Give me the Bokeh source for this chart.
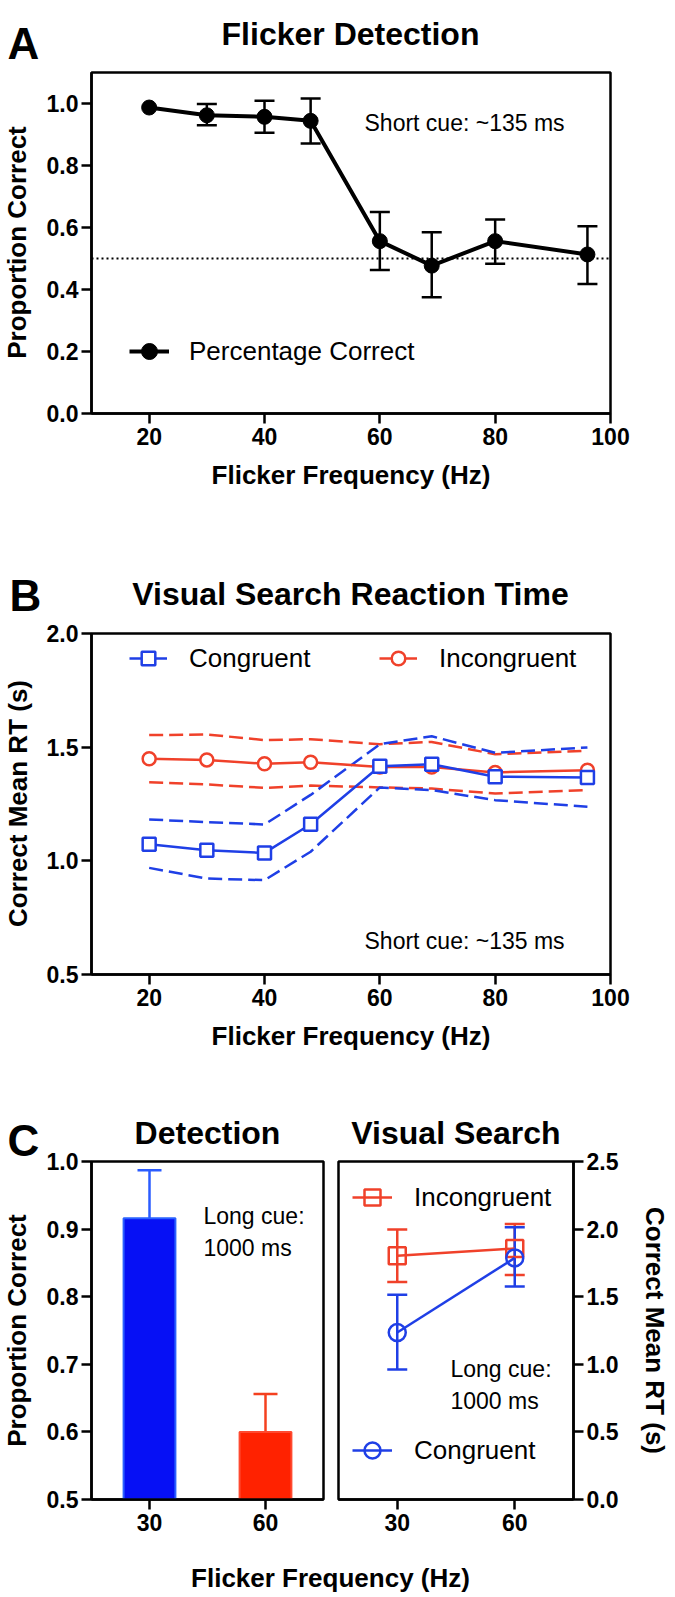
from math import pi
from bokeh.plotting import figure
from bokeh.models import (Range1d, FixedTicker, PrintfTickFormatter, Label, Span, Whisker,
                          TeeHead, ColumnDataSource, Legend, LegendItem, Title)
from bokeh.layouts import column, row
from bokeh.embed import file_html
from bokeh.resources import INLINE

# ---------------- data ----------------
# Panel A: flicker detection (short cue)
freq = [20, 30, 40, 48, 60, 69, 80, 96]
det_mean = [0.987, 0.962, 0.957, 0.944, 0.556, 0.477, 0.556, 0.513]
det_upper = [0.987, 0.998, 1.009, 1.016, 0.650, 0.585, 0.626, 0.604]
det_lower = [0.987, 0.930, 0.906, 0.871, 0.463, 0.375, 0.483, 0.418]
chance_level = 0.5

# Panel B: visual search reaction time (short cue)
cong_rt = [1.073, 1.047, 1.035, 1.161, 1.416, 1.425, 1.370, 1.367]
cong_rt_upper = [1.182, 1.170, 1.160, 1.290, 1.513, 1.548, 1.475, 1.499]
cong_rt_lower = [0.969, 0.922, 0.915, 1.040, 1.323, 1.311, 1.267, 1.238]
incong_rt = [1.449, 1.444, 1.427, 1.434, 1.413, 1.413, 1.389, 1.399]
incong_rt_upper = [1.553, 1.556, 1.531, 1.535, 1.513, 1.523, 1.469, 1.484]
incong_rt_lower = [1.346, 1.336, 1.321, 1.331, 1.323, 1.318, 1.296, 1.311]

# Panel C: long cue
c_freq = [30, 60]
c_det = [0.916, 0.600]
c_det_upper = [0.987, 0.656]
c_det_lower = [0.845, 0.542]
c_incong = [1.802, 1.856]
c_incong_upper = [1.997, 2.038]
c_incong_lower = [1.608, 1.661]
c_cong = [1.235, 1.787]
c_cong_upper = [1.515, 2.014]
c_cong_lower = [0.961, 1.576]

# ticks
ab_xticks = [20, 40, 60, 80, 100]
a_yticks = [0.0, 0.2, 0.4, 0.6, 0.8, 1.0]
b_yticks = [0.5, 1.0, 1.5, 2.0]
c_xticks = [30, 60]
cl_yticks = [0.5, 0.6, 0.7, 0.8, 0.9, 1.0]
cr_yticks = [0.0, 0.5, 1.0, 1.5, 2.0, 2.5]

# ---------------- styles ----------------
FONT = "Liberation Sans"
BLUE = "#1f3fe6"
RED = "#f0412a"
BAR_COLORS = ["#0610f5", "#ff2200"]
BAR_EDGES = ["#2b62ff", "#ff4a30"]
ERR_COLORS = ["#2b5cff", "#f4401f"]
TICK_PX = "23px"
AXLAB = 26
TITLE_PX = 32
LETTER_PX = 44
NOTE_PX = 23
LEG_PX = "26px"
TOTAL_H = 1597
STRIP_W = 43
COL_W = 632


def new_fig(**kw):
    p = figure(output_backend="svg", toolbar_location=None, title=None, **kw)
    try:
        p.frame_align = False
    except Exception:
        pass
    p.background_fill_color = "white"
    p.border_fill_color = "white"
    return p


def style(p, xticks, yticks):
    p.xgrid.visible = False
    p.ygrid.visible = False
    p.outline_line_color = "black"
    p.outline_line_width = 2.5
    p.outline_line_alpha = 1.0
    p.xaxis.ticker = FixedTicker(ticks=xticks)
    p.yaxis.ticker = FixedTicker(ticks=yticks)
    p.yaxis.formatter = PrintfTickFormatter(format="%.1f")
    for ax in p.axis:
        ax.axis_line_width = 2.5
        ax.axis_line_color = "black"
        ax.major_tick_line_width = 2.5
        ax.major_tick_line_color = "black"
        ax.major_tick_out = 10
        ax.major_tick_in = 0
        ax.minor_tick_line_color = None
        ax.major_label_text_font = FONT
        ax.major_label_text_font_style = "bold"
        ax.major_label_text_font_size = TICK_PX
        ax.major_label_text_color = "black"
        ax.axis_label_text_font = FONT
        ax.axis_label_text_font_style = "bold"
        ax.axis_label_text_font_size = f"{AXLAB}px"
        ax.axis_label_text_color = "black"
    p.xaxis.major_label_standoff = 4
    p.yaxis.major_label_standoff = 3


def blank(width, height):
    h = new_fig(width=width, height=height, x_axis_location=None, y_axis_location=None,
                min_border=0, x_range=Range1d(0, 1), y_range=Range1d(0, 1))
    h.xgrid.visible = False
    h.ygrid.visible = False
    h.outline_line_color = None
    return h


def lab(p, x, y, text, size, bold=False, align="left", baseline="alphabetic", angle=0.0):
    p.add_layout(Label(x=x, y=y, x_units="screen", y_units="screen", text=text,
                       text_font=FONT, text_font_size=f"{size}px",
                       text_font_style="bold" if bold else "normal",
                       text_align=align, text_baseline=baseline, angle=angle,
                       text_color="black"))


def whisk(p, xs, up, lo, color, width, head):
    src = ColumnDataSource(dict(x=xs, upper=up, lower=lo))
    w = Whisker(source=src, base="x", upper="upper", lower="lower",
                line_color=color, line_width=width,
                upper_head=TeeHead(size=head, line_color=color, line_width=width),
                lower_head=TeeHead(size=head, line_color=color, line_width=width))
    p.add_layout(w)


def legend(p, renderers, text, loc, gw, gh, standoff):
    leg = Legend(items=[LegendItem(label=text, renderers=renderers)], location=loc,
                 orientation="vertical", padding=0, margin=0, spacing=0,
                 border_line_color=None, background_fill_alpha=0.0,
                 glyph_width=gw, glyph_height=gh, label_height=gh,
                 label_standoff=standoff, label_text_font=FONT,
                 label_text_font_size=LEG_PX, label_text_color="black")
    p.add_layout(leg)


def frame_title(p, text):
    p.add_layout(Title(text=text, align="center", standoff=22, text_font=FONT,
                       text_font_size=f"{TITLE_PX}px", text_font_style="bold",
                       text_color="black"), "above")


# ---------------- left strip: panel letters and y-axis labels ----------------
strip = blank(STRIP_W, TOTAL_H)
lab(strip, 7, TOTAL_H - 43, "A", LETTER_PX, bold=True)
lab(strip, 9, TOTAL_H - 595, "B", LETTER_PX, bold=True)
lab(strip, 7, TOTAL_H - 1140, "C", LETTER_PX, bold=True)
lab(strip, 16, TOTAL_H - 242, "Proportion Correct", AXLAB, bold=True, align="center",
    baseline="middle", angle=pi / 2)
lab(strip, 17, TOTAL_H - 803, "Correct Mean RT (s)", AXLAB, bold=True, align="center",
    baseline="middle", angle=pi / 2)
lab(strip, 16, TOTAL_H - 1330, "Proportion Correct", AXLAB, bold=True, align="center",
    baseline="middle", angle=pi / 2)

# ---------------- Panel A ----------------
hA = blank(COL_W, 68)
lab(hA, 307, 35, "Flicker Detection", TITLE_PX, bold=True, align="center")

pA = new_fig(frame_width=519, frame_height=341, min_border_left=48, min_border_right=65,
             min_border_top=4, min_border_bottom=125,
             x_range=Range1d(10, 100), y_range=Range1d(0, 1.1),
             x_axis_label="Flicker Frequency (Hz)")
style(pA, ab_xticks, a_yticks)
pA.xaxis.axis_label_standoff = 12
span = Span(location=chance_level, dimension="width", line_color="black",
            line_width=2.2, line_dash="2 3", level="underlay")
pA.add_layout(span)
idx = [i for i in range(len(freq)) if det_upper[i] > det_mean[i]]
whisk(pA, [freq[i] for i in idx], [det_upper[i] for i in idx], [det_lower[i] for i in idx],
      "black", 2.5, 20)
lA = pA.line(freq, det_mean, line_width=4, line_color="black")
sA = pA.scatter(freq, det_mean, size=15, marker="circle", color="black")
legend(pA, [lA, sA], "Percentage Correct", (38, 42), 40, 40, 20)
lab(pA, 273, 291, "Short cue: ~135 ms", NOTE_PX)

# ---------------- Panel B ----------------
hB = blank(COL_W, 82)
lab(hB, 307, 27, "Visual Search Reaction Time", TITLE_PX, bold=True, align="center")

pB = new_fig(frame_width=519, frame_height=341, min_border_left=48, min_border_right=65,
             min_border_top=13, min_border_bottom=116,
             x_range=Range1d(10, 100), y_range=Range1d(0.5, 2.0),
             x_axis_label="Flicker Frequency (Hz)")
style(pB, ab_xticks, b_yticks)
pB.xaxis.axis_label_standoff = 12
for arr in (incong_rt_upper, incong_rt_lower):
    pB.line(freq, arr, line_color=RED, line_width=2.5, line_dash="14 6")
for arr in (cong_rt_upper, cong_rt_lower):
    pB.line(freq, arr, line_color=BLUE, line_width=2.5, line_dash="14 6")
lI = pB.line(freq, incong_rt, line_color=RED, line_width=2.5)
sI = pB.scatter(freq, incong_rt, marker="circle", size=13, line_color=RED,
                line_width=2.5, fill_color="white")
lC = pB.line(freq, cong_rt, line_color=BLUE, line_width=2.5)
sC = pB.scatter(freq, cong_rt, marker="square", size=13, line_color=BLUE,
                line_width=2.5, fill_color="white")
legend(pB, [lC, sC], "Congruent", (38, 299), 38, 34, 22)
legend(pB, [lI, sI], "Incongruent", (288, 299), 38, 34, 22)
lab(pB, 273, 34, "Short cue: ~135 ms", NOTE_PX)

# ---------------- Panel C left (detection bars) ----------------
pCl = new_fig(frame_width=232, frame_height=338, min_border_left=46, min_border_right=7,
              min_border_top=71, min_border_bottom=41,
              x_range=Range1d(15, 75), y_range=Range1d(0.5, 1.0))
style(pCl, c_xticks, cl_yticks)
frame_title(pCl, "Detection")
bar_src = ColumnDataSource(dict(x=c_freq, top=c_det, fill=BAR_COLORS, edge=BAR_EDGES))
pCl.vbar(x="x", top="top", bottom=0.5, width=13.4, source=bar_src,
         fill_color="fill", line_color="edge", line_width=2)
for i in range(len(c_freq)):
    whisk(pCl, [c_freq[i]], [c_det_upper[i]], [c_det_lower[i]], ERR_COLORS[i], 2.5, 24)
lab(pCl, 112, 284, "Long cue:", NOTE_PX)
lab(pCl, 112, 252, "1000 ms", NOTE_PX)

# ---------------- Panel C right (visual search) ----------------
pCr = new_fig(frame_width=235, frame_height=338, min_border_left=8, min_border_right=104,
              min_border_top=71, min_border_bottom=41,
              x_range=Range1d(15, 75), y_range=Range1d(0, 2.5), y_axis_location="right",
              y_axis_label="Correct Mean RT (s)")
style(pCr, c_xticks, cr_yticks)
pCr.yaxis.axis_label_standoff = 19
frame_title(pCr, "Visual Search")
whisk(pCr, c_freq, c_incong_upper, c_incong_lower, RED, 2.5, 20)
whisk(pCr, c_freq, c_cong_upper, c_cong_lower, BLUE, 2.5, 20)
lIc = pCr.line(c_freq, c_incong, line_color=RED, line_width=2.5)
sIc = pCr.scatter(c_freq, c_incong, marker="square", size=17, line_color=RED,
                  line_width=2.5, fill_alpha=0.0)
lCc = pCr.line(c_freq, c_cong, line_color=BLUE, line_width=2.5)
sCc = pCr.scatter(c_freq, c_cong, marker="circle", size=17, line_color=BLUE,
                  line_width=2.5, fill_alpha=0.0)
legend(pCr, [lIc, sIc], "Incongruent", (14, 281), 40, 42, 22)
legend(pCr, [lCc, sCc], "Congruent", (14, 28), 40, 42, 22)
lab(pCr, 112, 131, "Long cue:", NOTE_PX)
lab(pCr, 112, 99, "1000 ms", NOTE_PX)

# ---------------- shared x label for panel C (axis label of a flat strip) ----------------
pL = new_fig(frame_width=482, frame_height=1, min_border_left=46, min_border_right=104,
             min_border_top=0, min_border_bottom=56, y_axis_location=None,
             x_range=Range1d(15, 75), y_range=Range1d(0, 1),
             x_axis_label="Flicker Frequency (Hz)")
pL.xgrid.visible = False
pL.ygrid.visible = False
pL.outline_line_color = None
pL.xaxis.ticker = FixedTicker(ticks=[])
pL.xaxis.axis_line_color = None
pL.xaxis.major_tick_out = 0
pL.xaxis.major_tick_in = 0
pL.xaxis.minor_tick_line_color = None
pL.xaxis.major_label_standoff = 0
pL.xaxis.axis_label_standoff = 21
pL.xaxis.axis_label_text_font = FONT
pL.xaxis.axis_label_text_font_style = "bold"
pL.xaxis.axis_label_text_font_size = f"{AXLAB}px"
pL.xaxis.axis_label_text_color = "black"

right_col = column(hA, pA, hB, pB, row(pCl, pCr), pL)
layout = row(strip, right_col)
open("out.html", "w").write(file_html(layout, INLINE))
